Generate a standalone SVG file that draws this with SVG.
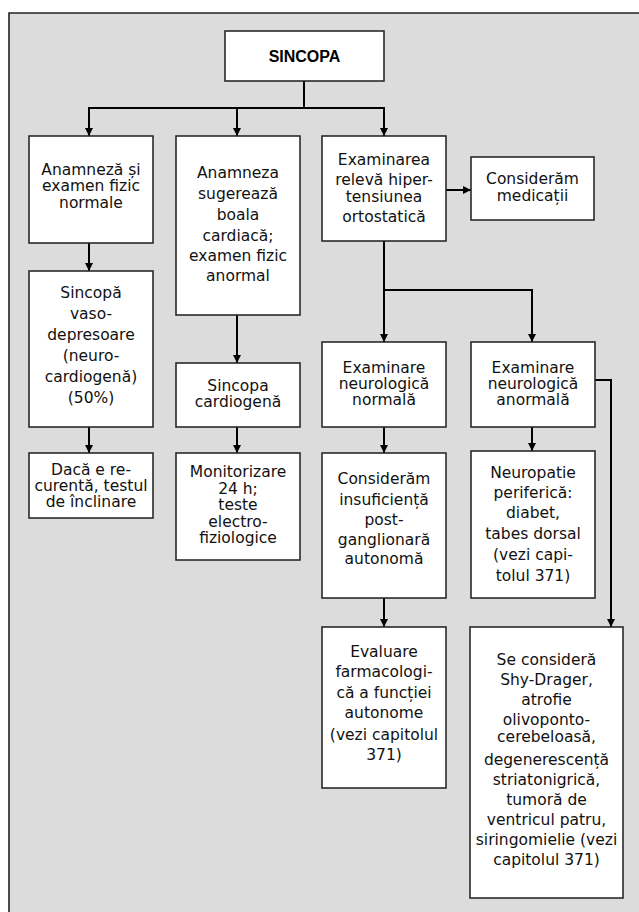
<svg xmlns="http://www.w3.org/2000/svg" width="639" height="912" viewBox="0 0 639 912">
  <style>
    .panel { fill: #dcdcdc; stroke: none; }
    .frame { stroke: #222; stroke-width: 1.6; fill: none; }
    .box { fill: #ffffff; stroke: #2a2a2a; stroke-width: 1.6; }
    .lbl { font-family: "DejaVu Sans", "Liberation Sans", sans-serif; font-size: 15.5px; fill: #111; text-anchor: middle; }
    .title { font-family: "Liberation Sans", Arial, sans-serif; font-size: 16px; font-weight: bold; fill: #000; text-anchor: middle; }
    .wire { stroke: #000; stroke-width: 2; fill: none; }
    .arrow { stroke: #000; stroke-width: 2; fill: none; marker-end: url(#head); }
  </style>
  <defs>
    <marker id="head" markerUnits="userSpaceOnUse" markerWidth="9" markerHeight="9" refX="8" refY="4.5" orient="auto">
      <path d="M0,0.5 L8,4.5 L0,8.5 z" fill="#000"/>
    </marker>
  </defs>

  <!-- background panel -->
  <rect width="639" height="912" fill="#ffffff"/>
  <rect class="panel" x="9" y="13" width="630" height="899"/>
  <path class="frame" d="M9,912 V13 H639"/>

  <!-- connectors -->
  <g id="connectors">
    <path class="wire" d="M304,81 V108"/>
    <path class="wire" d="M89,108 H385"/>
    <path class="arrow" d="M89,107 V136"/>
    <path class="arrow" d="M237,108 V136"/>
    <path class="arrow" d="M384,107 V136"/>
    <path class="arrow" d="M89,243 V271"/>
    <path class="arrow" d="M89,427 V453"/>
    <path class="arrow" d="M237,315 V363"/>
    <path class="arrow" d="M237,427 V453"/>
    <path class="arrow" d="M446,190 H471"/>
    <path class="wire" d="M384,241 V290 H532"/>
    <path class="arrow" d="M384,290 V342"/>
    <path class="arrow" d="M532,289 V342"/>
    <path class="arrow" d="M384,427 V453"/>
    <path class="arrow" d="M384,598 V627"/>
    <path class="arrow" d="M532,427 V451"/>
    <path class="wire" d="M595,380 H611"/>
    <path class="arrow" d="M611,379 V627"/>
  </g>

  <g id="sincopa">
    <rect class="box" x="225" y="31" width="159" height="50"/>
    <text class="title" x="304.5" y="62">SINCOPA</text>
  </g>

  <g id="anamneza-normala">
    <rect class="box" x="29" y="136" width="124" height="107"/>
    <text class="lbl" x="91" y="175">Anamneză și</text>
    <text class="lbl" x="91" y="191">examen fizic</text>
    <text class="lbl" x="91" y="208">normale</text>
  </g>

  <g id="anamneza-cardiaca">
    <rect class="box" x="176" y="136" width="124" height="179"/>
    <text class="lbl" x="238" y="178">Anamneza</text>
    <text class="lbl" x="238" y="199">sugerează</text>
    <text class="lbl" x="238" y="220">boala</text>
    <text class="lbl" x="238" y="241">cardiacă;</text>
    <text class="lbl" x="238" y="261">examen fizic</text>
    <text class="lbl" x="238" y="281">anormal</text>
  </g>

  <g id="hipotensiune">
    <rect class="box" x="322" y="136" width="124" height="105"/>
    <text class="lbl" x="384" y="165">Examinarea</text>
    <text class="lbl" x="384" y="185">relevă hiper-</text>
    <text class="lbl" x="384" y="202">tensiunea</text>
    <text class="lbl" x="384" y="222">ortostatică</text>
  </g>

  <g id="medicatii">
    <rect class="box" x="471" y="157" width="123" height="63"/>
    <text class="lbl" x="532.5" y="184">Considerăm</text>
    <text class="lbl" x="532.5" y="201">medicații</text>
  </g>

  <g id="vasodepresoare">
    <rect class="box" x="29" y="271" width="124" height="156"/>
    <text class="lbl" x="91" y="298">Sincopă</text>
    <text class="lbl" x="91" y="319">vaso-</text>
    <text class="lbl" x="91" y="340">depresoare</text>
    <text class="lbl" x="91" y="361">(neuro-</text>
    <text class="lbl" x="91" y="382">cardiogenă)</text>
    <text class="lbl" x="91" y="403">(50%)</text>
  </g>

  <g id="test-inclinare">
    <rect class="box" x="29" y="453" width="124" height="65"/>
    <text class="lbl" x="91" y="475">Dacă e re-</text>
    <text class="lbl" x="91" y="491">curentă, testul</text>
    <text class="lbl" x="91" y="507">de înclinare</text>
  </g>

  <g id="cardiogena">
    <rect class="box" x="176" y="363" width="124" height="64"/>
    <text class="lbl" x="238" y="391">Sincopa</text>
    <text class="lbl" x="238" y="407">cardiogenă</text>
  </g>

  <g id="monitorizare">
    <rect class="box" x="176" y="453" width="124" height="107"/>
    <text class="lbl" x="238" y="477">Monitorizare</text>
    <text class="lbl" x="238" y="494">24 h;</text>
    <text class="lbl" x="238" y="510">teste</text>
    <text class="lbl" x="238" y="527">electro-</text>
    <text class="lbl" x="238" y="543">fiziologice</text>
  </g>

  <g id="neuro-normala">
    <rect class="box" x="322" y="342" width="124" height="85"/>
    <text class="lbl" x="384" y="373">Examinare</text>
    <text class="lbl" x="384" y="389">neurologică</text>
    <text class="lbl" x="384" y="405">normală</text>
  </g>

  <g id="neuro-anormala">
    <rect class="box" x="471" y="342" width="124" height="85"/>
    <text class="lbl" x="533" y="373">Examinare</text>
    <text class="lbl" x="533" y="389">neurologică</text>
    <text class="lbl" x="533" y="405">anormală</text>
  </g>

  <g id="insuficienta">
    <rect class="box" x="322" y="453" width="124" height="145"/>
    <text class="lbl" x="384" y="484">Considerăm</text>
    <text class="lbl" x="384" y="505">insuficiență</text>
    <text class="lbl" x="384" y="525">post-</text>
    <text class="lbl" x="384" y="545">ganglionară</text>
    <text class="lbl" x="384" y="564">autonomă</text>
  </g>

  <g id="neuropatie">
    <rect class="box" x="471" y="451" width="124" height="147"/>
    <text class="lbl" x="533" y="478">Neuropatie</text>
    <text class="lbl" x="533" y="498">periferică:</text>
    <text class="lbl" x="533" y="518">diabet,</text>
    <text class="lbl" x="533" y="539">tabes dorsal</text>
    <text class="lbl" x="533" y="560">(vezi capi-</text>
    <text class="lbl" x="533" y="581">tolul 371)</text>
  </g>

  <g id="evaluare">
    <rect class="box" x="322" y="627" width="124" height="161"/>
    <text class="lbl" x="384" y="657">Evaluare</text>
    <text class="lbl" x="384" y="677">farmacologi-</text>
    <text class="lbl" x="384" y="698">că a funcției</text>
    <text class="lbl" x="384" y="718">autonome</text>
    <text class="lbl" x="384" y="740">(vezi capitolul</text>
    <text class="lbl" x="384" y="760">371)</text>
  </g>

  <g id="shy-drager">
    <rect class="box" x="470" y="627" width="153" height="271"/>
    <text class="lbl" x="546.5" y="665">Se consideră</text>
    <text class="lbl" x="546.5" y="685">Shy-Drager,</text>
    <text class="lbl" x="546.5" y="705">atrofie</text>
    <text class="lbl" x="546.5" y="725">olivoponto-</text>
    <text class="lbl" x="546.5" y="742">cerebeloasă,</text>
    <text class="lbl" x="546.5" y="765">degenerescență</text>
    <text class="lbl" x="546.5" y="785">striatonigrică,</text>
    <text class="lbl" x="546.5" y="805">tumoră de</text>
    <text class="lbl" x="546.5" y="825">ventricul patru,</text>
    <text class="lbl" x="546.5" y="845">siringomielie (vezi</text>
    <text class="lbl" x="546.5" y="865">capitolul 371)</text>
  </g>
</svg>
